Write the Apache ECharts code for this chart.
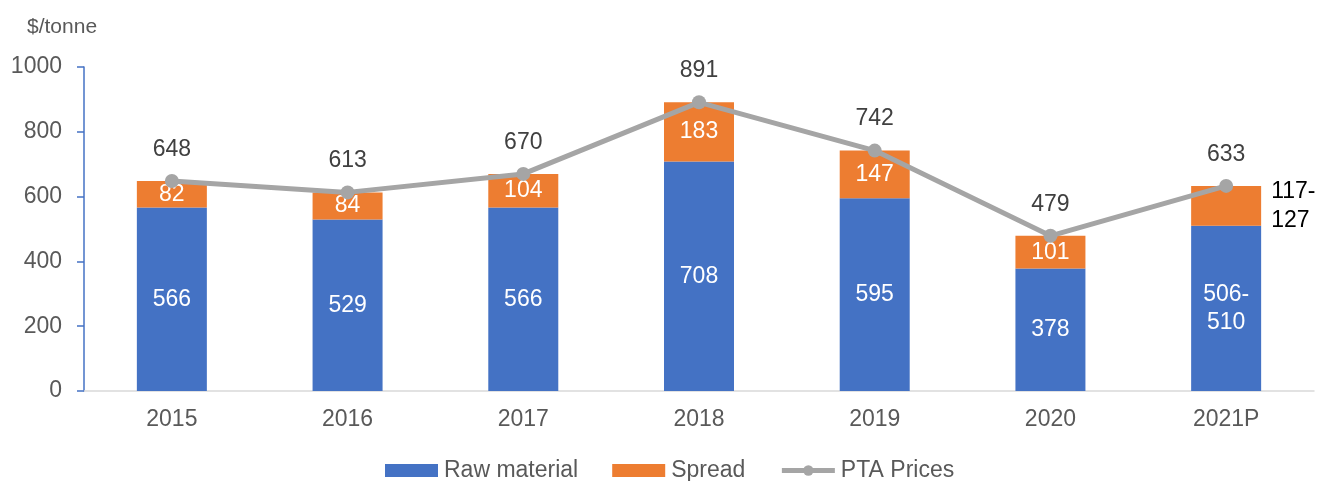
<!DOCTYPE html>
<html>
<head>
<meta charset="utf-8">
<script src="https://cdn.jsdelivr.net/npm/echarts@6/dist/echarts.min.js"></script>
<style>
  html, body { margin: 0; padding: 0; background: #fff; }
  #chart { width: 1321px; height: 481px; }
</style>
</head>
<body>
<div id="chart"></div>
<script>
// Chart data
const categories = ['2015', '2016', '2017', '2018', '2019', '2020', '2021P'];
const rawMaterial = [566, 529, 566, 708, 595, 378, 510];
const spread = [82, 84, 104, 183, 147, 101, 123];
const ptaPrices = [648, 613, 670, 891, 742, 479, 633];
// Label text per bar segment (the forecast year is quoted as a range)
const rawLabels = ['566', '529', '566', '708', '595', '378', '506-\n510'];
const spreadLabels = ['82', '84', '104', '183', '147', '101', '117-\n127'];
const yTicks = { min: 0, max: 1000, interval: 200 };

const FONT = '"Liberation Sans", Arial, sans-serif';
const chart = echarts.init(document.getElementById('chart'), null, { renderer: 'canvas' });

const lastIdx = categories.length - 1;

const spreadData = spread.map((v, i) => {
  if (i === lastIdx) {
    return {
      value: v,
      label: { position: 'right', distance: 10, color: '#000000', align: 'left' }
    };
  }
  return v;
});

chart.setOption({
  animation: false,
  textStyle: { fontFamily: FONT },
  grid: { left: 84, right: 7, top: 67, bottom: 90, containLabel: false },
  graphic: [{
    type: 'text',
    left: 27,
    top: 17,
    style: { text: '$/tonne', font: '21px ' + FONT, fill: '#595959' }
  }],
  legend: {
    left: 380,
    top: 454,
    itemWidth: 53,
    itemHeight: 13,
    itemGap: 34,
    textStyle: { fontSize: 23, color: '#595959', fontFamily: FONT, padding: [0, 0, 0, 1] },
    data: [
      { name: 'Raw material', icon: 'rect' },
      { name: 'Spread', icon: 'rect' },
      { name: 'PTA Prices', lineStyle: { width: 5, color: '#A5A5A5' }, itemStyle: { color: '#A5A5A5' } }
    ]
  },
  xAxis: {
    type: 'category',
    data: categories,
    axisLine: { show: true, lineStyle: { color: '#d9d9d9', width: 1.5 } },
    axisTick: { show: false },
    axisLabel: { color: '#595959', fontSize: 23, margin: 17, fontFamily: FONT },
    splitLine: { show: false }
  },
  yAxis: {
    type: 'value',
    min: yTicks.min,
    max: yTicks.max,
    interval: yTicks.interval,
    axisLine: { show: true, lineStyle: { color: '#4472C4', width: 1.5 } },
    axisTick: { show: true, length: 7, lineStyle: { color: '#4472C4', width: 1.5 } },
    axisLabel: {
      color: '#595959',
      fontSize: 23,
      margin: 22,
      fontFamily: FONT,
      formatter: v => String(v)
    },
    splitLine: { show: false }
  },
  series: [
    {
      name: 'Raw material',
      type: 'bar',
      stack: 'price',
      barWidth: 70,
      itemStyle: { color: '#4472C4' },
      label: {
        show: true,
        position: 'inside',
        color: '#ffffff',
        fontSize: 23,
        lineHeight: 28,
        fontFamily: FONT,
        formatter: p => rawLabels[p.dataIndex]
      },
      data: rawMaterial
    },
    {
      name: 'Spread',
      type: 'bar',
      stack: 'price',
      barWidth: 70,
      itemStyle: { color: '#ED7D31' },
      label: {
        show: true,
        position: 'inside',
        color: '#ffffff',
        fontSize: 23,
        lineHeight: 29,
        fontFamily: FONT,
        formatter: p => spreadLabels[p.dataIndex]
      },
      data: spreadData
    },
    {
      name: 'PTA Prices',
      type: 'line',
      z: 5,
      symbol: 'circle',
      symbolSize: 14,
      lineStyle: { color: '#A5A5A5', width: 5 },
      itemStyle: { color: '#A5A5A5' },
      label: {
        show: true,
        position: 'top',
        distance: 13,
        color: '#404040',
        fontSize: 23,
        fontFamily: FONT
      },
      data: ptaPrices
    }
  ]
});
</script>
</body>
</html>
